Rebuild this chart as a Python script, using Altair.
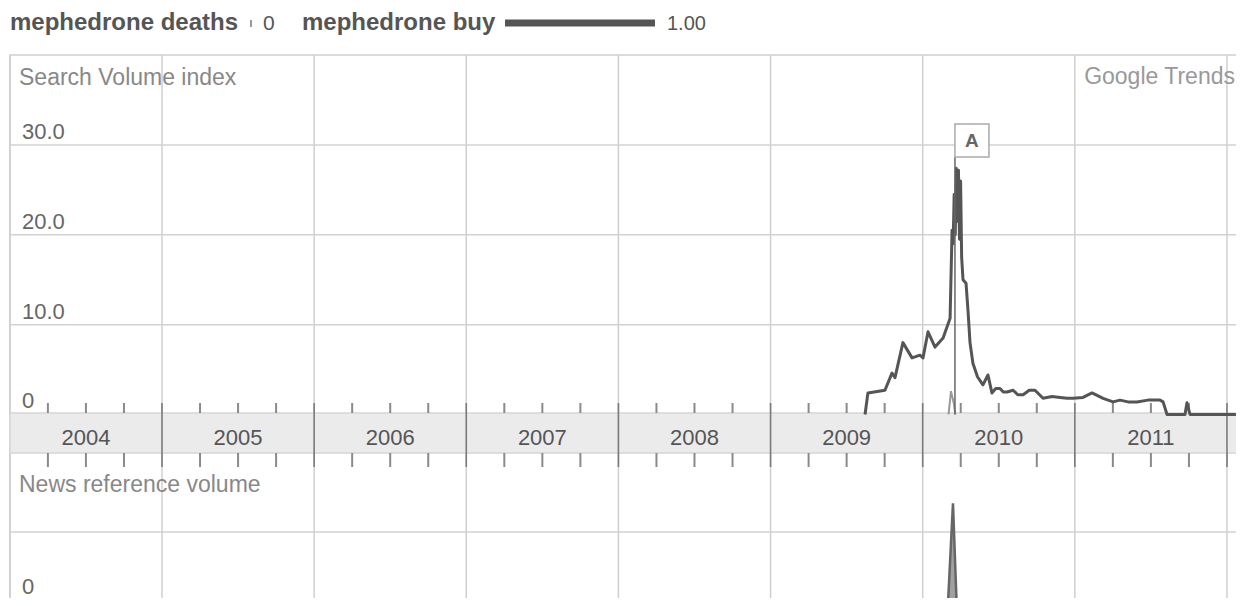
import altair as alt
import pandas as pd

# ---------------- data ----------------
# "mephedrone buy" search volume index (decimal year, value)
buy_t = [2009.621, 2009.640, 2009.752, 2009.798, 2009.818, 2009.870, 2009.930,
         2009.982, 2010.002, 2010.035, 2010.081, 2010.134, 2010.180, 2010.193,
         2010.200, 2010.207, 2010.214, 2010.221, 2010.228, 2010.235, 2010.242,
         2010.249, 2010.256, 2010.265,
         2010.285, 2010.298, 2010.311, 2010.330, 2010.360, 2010.396, 2010.429,
         2010.455, 2010.480, 2010.508, 2010.530, 2010.554, 2010.594, 2010.625,
         2010.660, 2010.700, 2010.738, 2010.791, 2010.850, 2010.903, 2010.950,
         2010.988, 2011.054, 2011.113, 2011.186, 2011.251, 2011.297, 2011.350,
         2011.409, 2011.480, 2011.560, 2011.580, 2011.606, 2011.724, 2011.737,
         2011.757, 2012.059]
buy_v = [0.0, 2.4, 2.7, 4.6, 4.1, 8.0, 6.3,
         6.6, 6.3, 9.2, 7.5, 8.5, 10.7, 20.5,
         19.0, 24.5, 20.0, 27.4, 21.5, 27.2, 19.5,
         26.0, 17.5, 15.0,
         14.6, 11.5, 8.0, 5.7, 4.2, 3.3, 4.4,
         2.4, 2.9, 2.9, 2.5, 2.5, 2.7, 2.2,
         2.2, 2.7, 2.7, 1.8, 2.0, 1.9, 1.8,
         1.8, 1.9, 2.4, 1.8, 1.4, 1.6, 1.4,
         1.4, 1.6, 1.6, 1.4, 0.0, 0.0, 1.3,
         0.0, 0.0]

# "mephedrone deaths" search volume index
deaths_t = [2010.170, 2010.186, 2010.205, 2010.214]
deaths_v = [0.0, 2.6, 1.2, 0.0]

# news reference volume
news_t = [2010.166, 2010.199, 2010.222, 2010.262]
news_v = [0.0, 1.40, 0.06, 0.0]

# event marker
event_labels = ["A"]
event_t = [2010.212]

years = [2004, 2005, 2006, 2007, 2008, 2009, 2010, 2011]
year_lines = [2005, 2006, 2007, 2008, 2009, 2010, 2011, 2012]
grid_all_years = [2004] + year_lines
quarters = [y + q for y in years for q in (0.25, 0.5, 0.75)]
sv_grid = [10, 20, 30]
sv_labels = ["10.0", "20.0", "30.0"]
news_grid = [1.0]

# ---------------- scales / styles ----------------
W, H = 1228, 590
FONT = "Liberation Sans"
xs = alt.Scale(domain=[2003.9878, 2012.0593], nice=False, zero=False)
ysv = alt.Scale(domain=[-20.43, 45.25], nice=False, zero=False)
ynews = alt.Scale(domain=[0.0833, 8.278], nice=False, zero=False)

buy_df = pd.DataFrame({"t": buy_t, "v": buy_v})
deaths_df = pd.DataFrame({"t": deaths_t, "v": deaths_v})
news_df = pd.DataFrame({"t": news_t, "v": news_v})
ev_df = pd.DataFrame({"t": event_t, "label": event_labels, "z": [0.0] * len(event_t)})
years_df = pd.DataFrame({"mid": [y + 0.5 for y in years], "label": [str(y) for y in years]})
yl_df = pd.DataFrame({"t": year_lines})
grid_df = pd.DataFrame({"t": grid_all_years})
q_df = pd.DataFrame({"t": quarters})
svg_df = pd.DataFrame({"v": sv_grid, "label": sv_labels})
zero_df = pd.DataFrame({"v": [0], "label": ["0"]})
news_grid_df = pd.DataFrame({"v": news_grid})
news_zero_df = pd.DataFrame({"v": [0], "label": ["0"]})

X = lambda f: alt.X(f, type="quantitative", scale=xs, axis=None)
YS = lambda f: alt.Y(f, type="quantitative", scale=ysv, axis=None)
YN = lambda f: alt.Y(f, type="quantitative", scale=ynews, axis=None)

one = pd.DataFrame({"a": [0]})

def label(txt, x, y, size=23, color="#888", weight="normal", align="left"):
    return alt.Chart(pd.DataFrame({"label": [txt]})).mark_text(
        font=FONT, fontSize=size, color=color, fontWeight=weight,
        align=align, baseline="alphabetic"
    ).encode(x=alt.value(x), y=alt.value(y), text="label:N")

layers = []

# frame
layers.append(alt.Chart(one).mark_rect(fill="white", stroke="#cfcfcf", strokeWidth=1.5).encode(
    x=alt.value(2), x2=alt.value(W + 20), y=alt.value(47), y2=alt.value(H + 20)))

# vertical gridlines
layers.append(alt.Chart(grid_df).mark_rule(color="#cfcfcf", strokeWidth=1.5).encode(
    x=X("t"), y=alt.value(47), y2=alt.value(H)))

# horizontal gridlines (search volume)
layers.append(alt.Chart(svg_df).mark_rule(color="#d2d2d2", strokeWidth=1.5).encode(
    y=YS("v"), x=alt.value(2), x2=alt.value(W)))
# news gridline
layers.append(alt.Chart(news_grid_df).mark_rule(color="#d2d2d2", strokeWidth=1.5).encode(
    y=YN("v"), x=alt.value(2), x2=alt.value(W)))

# date band
layers.append(alt.Chart(one).mark_rect(fill="#ebebeb", stroke="#d6d6d6", strokeWidth=1.5).encode(
    x=alt.value(2), x2=alt.value(W + 20), y=alt.value(405), y2=alt.value(445)))

# year dividers through band
layers.append(alt.Chart(yl_df).mark_rule(color="#7a7a7a", strokeWidth=1.6).encode(
    x=X("t"), y=alt.value(395), y2=alt.value(459)))

# quarter ticks above and below band
layers.append(alt.Chart(q_df).mark_rule(color="#8a8a8a", strokeWidth=2).encode(
    x=X("t"), y=alt.value(395), y2=alt.value(405)))
layers.append(alt.Chart(q_df).mark_rule(color="#8a8a8a", strokeWidth=2).encode(
    x=X("t"), y=alt.value(445), y2=alt.value(459)))

# year labels
layers.append(alt.Chart(years_df).mark_text(
    font=FONT, fontSize=22, color="#555", baseline="alphabetic", align="center"
).encode(x=X("mid"), y=alt.value(437), text="label:N"))

# y labels (search volume)
layers.append(alt.Chart(svg_df).mark_text(
    font=FONT, fontSize=22, color="#666", baseline="alphabetic", align="left", dy=-6
).encode(y=YS("v"), x=alt.value(14), text="label:N"))
layers.append(alt.Chart(zero_df).mark_text(
    font=FONT, fontSize=22, color="#666", baseline="alphabetic", align="left", dy=-6
).encode(y=YS("v"), x=alt.value(14), text="label:N"))
layers.append(alt.Chart(news_zero_df).mark_text(
    font=FONT, fontSize=22, color="#666", baseline="alphabetic", align="left", dy=-10
).encode(y=YN("v"), x=alt.value(14), text="label:N"))

# panel titles
layers.append(label("Search Volume index", 11, 77))
layers.append(label("Google Trends", 1227, 76, color="#999", align="right"))
layers.append(label("News reference volume", 11, 484))

# legend
layers.append(label("mephedrone deaths", 2, 22, size=24, color="#555", weight="bold"))
layers.append(alt.Chart(one).mark_rule(color="#999", strokeWidth=2).encode(
    x=alt.value(243), y=alt.value(12), y2=alt.value(19)))
layers.append(label("0", 255, 22, size=21, color="#555"))
layers.append(label("mephedrone buy", 294, 22, size=24, color="#555", weight="bold"))
layers.append(alt.Chart(one).mark_rule(color="#555", strokeWidth=7).encode(
    x=alt.value(497), x2=alt.value(647), y=alt.value(15)))
layers.append(label("1.00", 659, 22, size=20, color="#555"))

# series
layers.append(alt.Chart(deaths_df).mark_line(color="#999", strokeWidth=2, interpolate="linear").encode(
    x=X("t"), y=YS("v")))
layers.append(alt.Chart(buy_df).mark_line(color="#555", strokeWidth=3, strokeJoin="round").encode(
    x=X("t"), y=YS("v")))
layers.append(alt.Chart(news_df).mark_area(color="#777", line={"color": "#666", "strokeWidth": 2.5}).encode(
    x=X("t"), y=YN("v")))

# event marker
layers.append(alt.Chart(ev_df).mark_rule(color="#666", strokeWidth=1.5).encode(
    x=X("t"), y=YS("z"), y2=alt.value(149)))
layers.append(alt.Chart(ev_df).mark_rect(fill="white", stroke="#aaa", strokeWidth=1.5, x2Offset=34).encode(
    x=X("t"), x2="t", y=alt.value(116), y2=alt.value(149)))
layers.append(alt.Chart(ev_df).mark_text(
    font=FONT, fontSize=19, fontWeight="bold", color="#666", align="center", baseline="middle", dx=17
).encode(x=X("t"), y=alt.value(133), text="label:N"))

chart = alt.layer(*layers).resolve_scale(y="independent").properties(
    width=W, height=H, padding=0, autosize=alt.AutoSizeParams(type="none")
).configure_view(stroke=None)

chart.save("out.html", embed_options={"renderer": "svg", "actions": False})
